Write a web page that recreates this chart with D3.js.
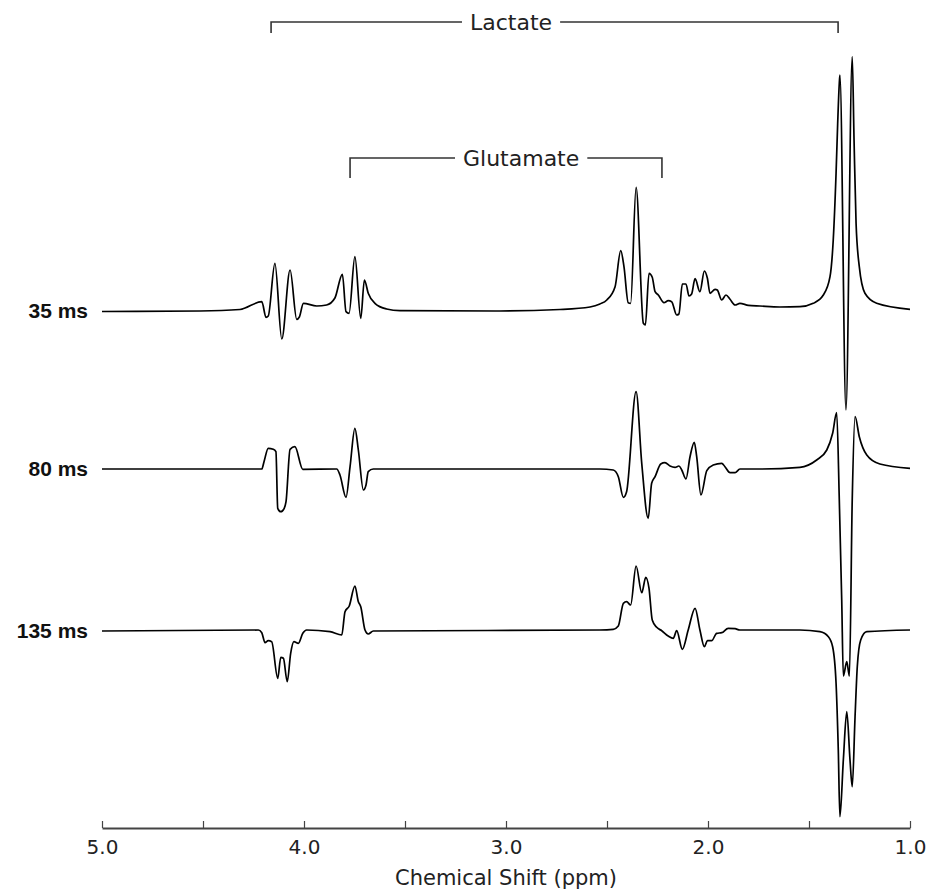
<!DOCTYPE html>
<html>
<head>
<meta charset="utf-8">
<script src="https://cdn.jsdelivr.net/npm/d3@7"></script>
<style>
  body { margin: 0; background: #fff; }
  svg { display: block; }
</style>
</head>
<body>
<div id="chart"></div>
<script>

// echo times, one spectrum each
let series_labels = ["35 ms", "80 ms", "135 ms"];

// chemical shift (ppm) and intensity (a.u., relative to each baseline)
let ppm_35 = [5.0, 4.515, 4.317, 4.209, 4.188, 4.177, 4.144, 4.110, 4.069, 4.036, 4.023, 4.003, 3.937, 3.888, 3.847, 3.810, 3.792, 3.777, 3.748, 3.719, 3.701, 3.682, 3.649, 3.591, 3.525, 3.030, 2.733, 2.584, 2.535, 2.501, 2.460, 2.432, 2.416, 2.395, 2.383, 2.356, 2.320, 2.310, 2.292, 2.276, 2.262, 2.246, 2.218, 2.197, 2.180, 2.155, 2.144, 2.127, 2.109, 2.094, 2.081, 2.064, 2.040, 2.018, 2.003, 1.990, 1.965, 1.954, 1.932, 1.911, 1.891, 1.866, 1.842, 1.800, 1.743, 1.644, 1.545, 1.479, 1.429, 1.396, 1.380, 1.366, 1.358, 1.350, 1.347, 1.317, 1.286, 1.277, 1.267, 1.251, 1.223, 1.165, 1.0];
let int_35 = [-0.25, 0, 0.75, 4.65, -3.15, -2.5, 23.85, -14, 20.5, -4.15, -3, 3.85, 2.5, 3, 6.5, 18.35, -0.35, -1.15, 27.15, -3.65, 15.5, 8.85, 3.85, 1, 0.15, 0, 0.75, 2, 3.5, 5.5, 12.15, 30.15, 22.15, 4.15, 3.85, 61.85, -6.15, -7, 18.85, 16.85, 9.65, 8, 4.15, 5.15, 4.65, -2, -1.5, 13.5, 13.5, 7.5, 8.5, 16.15, 9.65, 20, 16.35, 8.85, 10.85, 10.5, 5.5, 8, 5.85, 3, 3.85, 2.85, 2.5, 2, 2.15, 3.85, 8, 17.15, 35.5, 68.85, 93.85, 113.85, 118, -49.5, 127.15, 85.5, 43.85, 22.15, 8.85, 3.85, 0.85];

let ppm_80 = [5.0, 4.317, 4.209, 4.198, 4.177, 4.152, 4.139, 4.130, 4.115, 4.098, 4.089, 4.069, 4.045, 4.006, 3.838, 3.822, 3.792, 3.772, 3.748, 3.731, 3.706, 3.693, 3.682, 3.657, 2.535, 2.469, 2.444, 2.419, 2.403, 2.356, 2.328, 2.296, 2.279, 2.262, 2.234, 2.213, 2.188, 2.163, 2.144, 2.130, 2.109, 2.089, 2.068, 2.056, 2.035, 2.006, 1.974, 1.932, 1.916, 1.891, 1.866, 1.842, 1.743, 1.545, 1.462, 1.412, 1.383, 1.363, 1.350, 1.338, 1.330, 1.313, 1.300, 1.286, 1.272, 1.251, 1.214, 1.149, 1.0];
let int_80 = [0, 0, 0, 3.65, 10.35, 9.85, 8.65, -19.65, -21.35, -19.65, -16.35, 9.85, 11.15, -0.15, 0, -3, -14.15, 1.15, 20.35, 9.5, -10.5, -8, -1.35, 0, 0, -0.5, -3.85, -14.15, -11.35, 38.65, 2.85, -24.65, -7.15, -3.85, 2.5, 3.15, 1.5, 0.85, 1.5, -0.5, -5, 6.15, 13.35, 6.15, -13, -0.85, 2, 2.85, 1.15, -1.85, -1.85, 0, 0, 0.85, 4.5, 9.5, 17.85, 28.15, -15.5, -65.5, -103.5, -96.35, -103.5, -15.5, 26.15, 16.15, 7, 2.5, 0.35];

let ppm_135 = [5.0, 4.226, 4.209, 4.193, 4.177, 4.160, 4.130, 4.115, 4.102, 4.083, 4.066, 4.050, 4.028, 4.006, 3.987, 3.871, 3.813, 3.797, 3.776, 3.748, 3.731, 3.719, 3.698, 3.682, 3.657, 2.535, 2.469, 2.444, 2.419, 2.403, 2.383, 2.356, 2.328, 2.308, 2.292, 2.276, 2.254, 2.229, 2.197, 2.172, 2.155, 2.127, 2.098, 2.064, 2.040, 2.018, 2.003, 1.982, 1.957, 1.932, 1.900, 1.866, 1.842, 1.743, 1.545, 1.446, 1.404, 1.383, 1.366, 1.355, 1.347, 1.330, 1.313, 1.297, 1.286, 1.272, 1.261, 1.244, 1.214, 1.0];
let int_135 = [0, 0.5, -0.85, -5.85, -4.85, -5.35, -23.65, -13.15, -13.65, -25.35, -11.15, -5.35, -6.15, -1.15, 0.5, -0.35, -2, 9.65, 12.5, 22.5, 14.65, 12.15, 0.5, -1.5, 0, 0.5, 0.85, 2.5, 13.85, 14.65, 13, 32.5, 19.15, 26.85, 21.35, 5.5, 1.85, 0.15, -2.5, -3.65, 0.15, -9.15, 0.5, 11.35, 0.5, -7.85, -4.85, -4.85, -1.15, -0.85, 1.35, 1.15, 0.5, 0.5, 0.5, -0.35, -2.85, -7.85, -26.15, -59.5, -92.85, -64.5, -40.35, -64.5, -77.85, -42.85, -17.85, -4.5, -0.35, 0.5];

// bracket annotations: label, ppm span, ppm where the label sits
let bracket_names = ["Lactate", "Glutamate"];
let bracket_from = [4.163, 3.772];
let bracket_to = [1.356, 2.228];
let bracket_label_at = [2.975, 2.925];

let x_ticks = [5.0, 4.5, 4.0, 3.5, 3.0, 2.5, 2.0, 1.5, 1.0];

// vertical stacking of the traces (a.u.)
let offsets = [258.5, 179.5, 98.5];

let chart_width = 931;
let chart_height = 892;

let font_main = "DejaVu Sans, Verdana, sans-serif";

let svg = d3.select("#chart")
            .append("svg")
            .attr("width", chart_width)
            .attr("height", chart_height);

let xScale = d3.scaleLinear()
               .domain([5.0, 1.0])
               .range([102, 910]);

let yScale = d3.scaleLinear()
               .domain([0, 400])
               .range([828, 28]);

let x_axis = svg.append("g")
    .attr("class", "x axis")
    .attr("transform", "translate(0," + yScale(0) + ")");

x_axis.call(d3.axisBottom(xScale)
    .tickValues(x_ticks)
    .tickSizeInner(-7)
    .tickSizeOuter(0)
    .tickPadding(12)
    .tickFormat(d => (d % 1 === 0) ? d.toFixed(1) : ""));

x_axis.select(".domain").attr("stroke", "#444").attr("stroke-width", 1.8);
x_axis.selectAll(".tick line").attr("stroke", "#444").attr("stroke-width", 1.2);
x_axis.selectAll(".tick text")
    .attr("fill", "#222")
    .style("font-family", font_main)
    .style("font-size", "20px");

svg.append("text")
    .attr("x", (xScale(5) + xScale(1)) / 2)
    .attr("y", 885)
    .attr("text-anchor", "middle")
    .attr("fill", "#222")
    .style("font-family", font_main)
    .style("font-size", "21px")
    .text("Chemical Shift (ppm)");

let all_ppm = [ppm_35, ppm_80, ppm_135];
let all_int = [int_35, int_80, int_135];

for (let s = 0; s < series_labels.length; s++) {
    let pts = all_ppm[s].map((p, i) => [p, all_int[s][i]]);
    let line = d3.line()
        .x(d => xScale(d[0]))
        .y(d => yScale(d[1] + offsets[s]))
        .curve(d3.curveMonotoneX);

    svg.append("path")
        .datum(pts)
        .attr("d", line)
        .attr("fill", "none")
        .attr("stroke", "#000")
        .attr("stroke-width", 1.7)
        .attr("stroke-linejoin", "round");

    svg.append("text")
        .attr("x", 88)
        .attr("y", yScale(offsets[s]))
        .attr("dy", "0.35em")
        .attr("text-anchor", "end")
        .attr("fill", "#111")
        .style("font-family", "Liberation Sans, Arial, sans-serif")
        .style("font-weight", "bold")
        .style("font-size", "21px")
        .text(series_labels[s]);
}

// brackets
let bracket_y = [22, 158];
let bracket_drop = [11, 20];

for (let b = 0; b < bracket_names.length; b++) {
    let x0 = xScale(bracket_from[b]);
    let x1 = xScale(bracket_to[b]);
    let yb = bracket_y[b];
    let g = svg.append("g");

    let label = g.append("text")
        .attr("x", xScale(bracket_label_at[b]))
        .attr("y", yb)
        .attr("dy", "0.35em")
        .attr("text-anchor", "middle")
        .attr("fill", "#222")
        .style("font-family", font_main)
        .style("font-size", "22px")
        .text(bracket_names[b]);

    let bb = label.node().getBBox();
    let gap = 8;

    g.append("path")
        .attr("d", "M" + x0 + "," + (yb + bracket_drop[b]) + "V" + yb + "H" + (bb.x - gap))
        .attr("fill", "none")
        .attr("stroke", "#333")
        .attr("stroke-width", 1.6);

    g.append("path")
        .attr("d", "M" + (bb.x + bb.width + gap) + "," + yb + "H" + x1 + "V" + (yb + bracket_drop[b]))
        .attr("fill", "none")
        .attr("stroke", "#333")
        .attr("stroke-width", 1.6);
}

</script>
</body>
</html>
